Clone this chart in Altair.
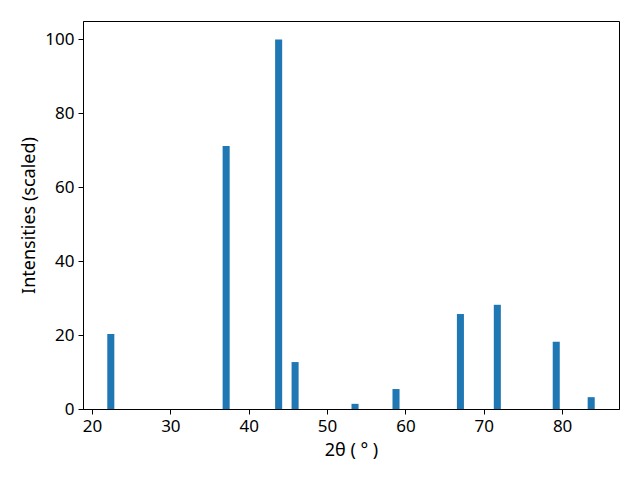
import altair as alt
import pandas as pd

two_theta = [22.40, 37.12, 43.82, 45.92, 53.57, 58.80, 67.02, 71.73, 79.25, 83.71]
intensity = [20.3, 71.2, 100.0, 12.7, 1.4, 5.4, 25.7, 28.2, 18.2, 3.2]
bar_width = 0.9
x_ticks = [20, 30, 40, 50, 60, 70, 80]
y_ticks = [0, 20, 40, 60, 80, 100]

df = pd.DataFrame({"angle": two_theta, "intensity": intensity})

font = "Noto Sans"

chart = alt.Chart(df).transform_calculate(
    x0=f"datum.angle - {bar_width/2}",
    x1=f"datum.angle + {bar_width/2}",
).mark_bar(color="#1f77b4").encode(
    x=alt.X("x0:Q",
            scale=alt.Scale(domain=[18.85, 87.26], nice=False, zero=False),
            axis=alt.Axis(values=x_ticks, title="2θ ( ° )", format="d", titlePadding=7)),
    x2="x1:Q",
    y=alt.Y("intensity:Q",
            scale=alt.Scale(domain=[0, 105], nice=False),
            axis=alt.Axis(values=y_ticks, title="Intensities (scaled)", format="d", titlePadding=6)),
    y2=alt.datum(0),
).properties(
    width=536, height=388,
    autosize=alt.AutoSizeParams(type="none"),
    padding={"left": 75, "top": 13, "right": 13, "bottom": 63},
).configure_view(
    stroke="black", strokeWidth=1
).configure_axis(
    grid=False,
    domainColor="black",
    tickColor="black",
    tickSize=5,
    labelFont=font,
    labelFontSize=17,
    labelColor="black",
    labelPadding=4,
    titleFont=font,
    titleFontSize=18,
    titleFontWeight="normal",
    titleColor="black",
)

chart.save("out.html", embed_options={"renderer": "svg", "actions": False})
